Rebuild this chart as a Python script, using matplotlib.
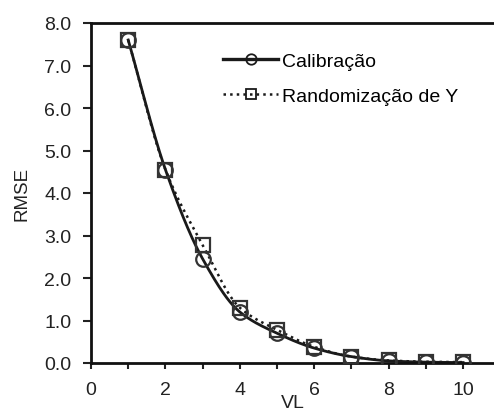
import numpy as np
import matplotlib
matplotlib.use("Agg")
import matplotlib.pyplot as plt

plt.rcParams['font.family'] = ['Liberation Sans', 'DejaVu Sans']

vl = [1, 2, 3, 4, 5, 6, 7, 8, 9, 10]
rmse_cal = [7.60, 4.55, 2.45, 1.20, 0.70, 0.35, 0.15, 0.05, 0.02, 0.01]
rmse_rand = [7.60, 4.55, 2.78, 1.30, 0.78, 0.38, 0.15, 0.06, 0.03, 0.02]
y_ticks = [0, 1, 2, 3, 4, 5, 6, 7, 8]
x_ticks = [0, 2, 4, 6, 8, 10]


def pchip(x, y, n=300):
    """Shape-preserving cubic through the points, for a smooth connecting line."""
    x = np.asarray(x, float)
    y = np.asarray(y, float)
    h = np.diff(x)
    d = np.diff(y) / h
    m = np.zeros_like(y)
    for k in range(1, len(x) - 1):
        if d[k - 1] * d[k] > 0:
            w1 = 2 * h[k] + h[k - 1]
            w2 = h[k] + 2 * h[k - 1]
            m[k] = (w1 + w2) / (w1 / d[k - 1] + w2 / d[k])
    m[0] = d[0]
    m[-1] = d[-1]
    xs = np.linspace(x[0], x[-1], n)
    idx = np.clip(np.searchsorted(x, xs) - 1, 0, len(x) - 2)
    t = (xs - x[idx]) / h[idx]
    h00 = 2 * t**3 - 3 * t**2 + 1
    h10 = t**3 - 2 * t**2 + t
    h01 = -2 * t**3 + 3 * t**2
    h11 = t**3 - t**2
    ys = (h00 * y[idx] + h10 * h[idx] * m[idx]
          + h01 * y[idx + 1] + h11 * h[idx] * m[idx + 1])
    return xs, ys


fig = plt.figure(figsize=(4.94, 4.14), dpi=100)
ax = fig.add_axes([91 / 494, 50 / 414, 403 / 494, 340 / 414])

col = '#1a1a1a'
xs, ys = pchip(vl, rmse_rand)
ax.plot(xs, ys, ':', color=col, lw=1.8, zorder=2)
ax.plot(vl, rmse_rand, 's', ms=10.5, mfc='none', mec='#333333', mew=1.6, zorder=3)
xs, ys = pchip(vl, rmse_cal)
ax.plot(xs, ys, '-', color=col, lw=2.0, zorder=2)
ax.plot(vl, rmse_cal, 'o', ms=10.5, mfc='none', mec='#333333', mew=1.6, zorder=3)

# legend proxies
h1, = ax.plot([], [], '-', color=col, lw=2.4, marker='o', ms=7.5, mfc='none',
              mec=col, mew=1.3)
h2, = ax.plot([], [], ':', color=col, lw=1.8, marker='s', ms=7.5, mfc='none',
              mec=col, mew=1.3)
ax.legend([h1, h2], ['Calibração', 'Randomização de Y'], loc='upper left',
          bbox_to_anchor=(132 / 403, 1 - 29 / 340), frameon=False, fontsize=14,
          handlelength=2.85, handletextpad=0.2, labelspacing=0.9,
          borderpad=0, borderaxespad=0)

ax.set_xlim(0, 10.83)
ax.set_ylim(0, 8)
ax.set_xticks(x_ticks)
ax.set_xticks([1, 3, 5, 7, 9], minor=True)
ax.set_yticks(y_ticks)
ax.set_yticklabels([f'{v:.1f}' for v in y_ticks])
ax.tick_params(axis='y', which='both', direction='out', width=1.5,
               length=6, labelsize=14, colors='#222222', pad=8)
ax.tick_params(axis='x', which='both', direction='out', width=1.5,
               length=4, labelsize=14, colors='#222222', pad=9)
for s in ['left', 'bottom', 'top']:
    ax.spines[s].set_linewidth(2.0)
    ax.spines[s].set_color('#111111')
ax.spines['right'].set_visible(False)
ax.set_ylabel('RMSE', fontsize=13.5, color='#222222', labelpad=10)
ax.set_xlabel('VL', fontsize=14, color='#222222', labelpad=-3)

fig.savefig('out.png', dpi=100)
